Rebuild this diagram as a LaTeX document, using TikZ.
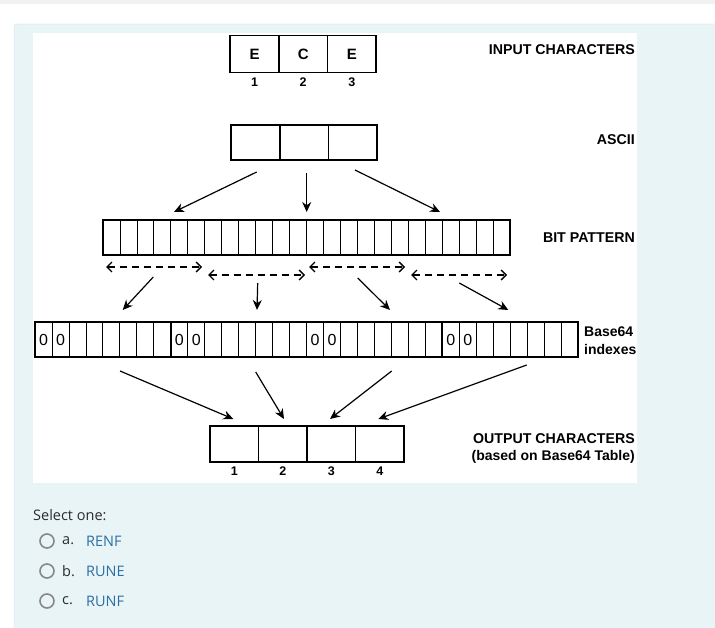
\documentclass[tikz,border=0pt]{standalone}
\usepackage{fontspec}
\setmainfont{Liberation Sans}
\newfontfamily\uifont{Open Sans}
\usetikzlibrary{positioning,arrows.meta,calc}
\definecolor{panelbg}{HTML}{E8F4F6}
\definecolor{panelrule}{HTML}{CDE4E8}
\definecolor{topstrip}{HTML}{F1F1F1}
\definecolor{linkblue}{HTML}{2C6FA5}
\definecolor{radiogray}{HTML}{888888}
\definecolor{uitext}{HTML}{2B2B2B}
\tikzset{
  cell/.style={draw,line width=1.5pt,minimum width=48.6pt,minimum height=37pt,inner sep=0pt,
    font=\bfseries\fontsize{15}{15}\selectfont},
  num/.style={inner sep=0pt,font=\bfseries\fontsize{12.5}{12.5}\selectfont},
  bit/.style={draw,line width=0.8pt,minimum width=16.96pt,minimum height=35pt,inner sep=0pt},
  zero/.style={inner sep=0pt,font=\fontsize{16}{16}\selectfont},
  grp/.style={draw,line width=1.6pt,minimum width=135.7pt,minimum height=35pt,inner sep=0pt},
  lbl/.style={anchor=east,inner sep=0pt,font=\bfseries\fontsize{14.2}{16}\selectfont},
  arr/.style={-{Stealth[length=10pt,width=9pt]},line width=1.2pt},
  dbl/.style={{Straight Barb[length=5pt,width=10pt]}-{Straight Barb[length=5pt,width=10pt]},
    line width=1.3pt,dash pattern=on 7pt off 5pt},
  radio/.style={draw=radiogray,line width=1.6pt,circle,minimum size=14pt,inner sep=0pt},
  ui/.style={anchor=west,inner sep=0pt,text=uitext,font=\uifont\fontsize{14.5}{16}\selectfont},
}
\begin{document}
\begin{tikzpicture}[x=1pt,y=-1pt]
\useasboundingbox (0,0) rectangle (715,628);
\clip (0,0) rectangle (715,628);
% page and panel
\fill[topstrip] (0,0) rectangle (715,4);
\draw[panelrule,fill=panelbg,rounded corners=3pt] (14,24) rectangle (730,650);
\fill[white] (33,33) rectangle (637,483);

% input characters
\foreach \t [count=\i] in {E,C,E} {
  \node[cell] (in\i) at ({205.8+48.7*\i},54) {\t};
  \node[num,below=4pt of in\i] (innum\i) {\i};
}
\node[lbl] (inlbl) at (635,50) {INPUT CHARACTERS};

% ascii
\foreach \i in {1,2,3}
  \node[cell,minimum height=35pt] (asc\i) at ({206.8+48.7*\i},142.5) {};
\node[lbl] (asclbl) at (635,140) {ASCII};

% bit pattern
\foreach \i in {1,...,24}
  \node[bit] (b\i) at ({103+16.96*(\i-0.5)},237.5) {};
\foreach \g in {1,2,3}
  \node[grp] (bits\g) at ({103+135.68*(\g-0.5)},237.5) {};
\node[lbl] (bitlbl) at (635,238) {BIT PATTERN};

% base64 indexes
\foreach \i in {1,...,32}
  \node[bit] (c\i) at ({35+16.97*(\i-0.5)},339.5) {};
\foreach \g in {0,1,2,3} {
  \node[grp] (six\g) at ({35+135.75*(\g+0.5)},339.5) {};
  \node[zero] (za\g) at ({35+135.75*\g+8.5},339.5) {0};
  \node[zero] (zb\g) at ({35+135.75*\g+25.5},339.5) {0};
}
\node[anchor=west,inner sep=0pt,align=left,font=\bfseries\fontsize{14}{18}\selectfont]
  (sixlbl) at (584,341) {Base64\\indexes};

% output characters
\foreach \i in {1,...,4} {
  \node[cell,minimum width=48.5pt,minimum height=36pt] (out\i) at ({185.75+48.5*\i},444) {};
  \node[num,below=4pt of out\i] (outnum\i) {\i};
}
\node[lbl] (outlbl) at (635,439) {OUTPUT CHARACTERS};
\node[lbl,font=\bfseries\fontsize{14}{16}\selectfont] (outlbl2) at (635,457) {(based on Base64 Table)};

% arrow ends
\foreach \n/\x/\y in {a1/256.7/172, a2/306.7/173, a3/355/170,
                      e1/174/212, e2/306.7/212, e3/440/212,
                      p1/153.3/277, p2/257.7/283, p3/357.7/278, p4/459.3/283,
                      q1/122.7/310, q2/257/310, q3/390/310, q4/508.3/310,
                      r1/120/371, r2/255.7/372, r3/391.7/371, r4/526.7/365,
                      s1/233.3/419, s2/284/419, s3/330/419, s4/378.3/419,
                      d1/106/267, d2/202/267, d3/208/275, d4/305/275,
                      d5/309/267, d6/405/267, d7/411/275, d8/507/275}
  \coordinate (\n) at (\x,\y);

\foreach \i in {1,2,3}
  \draw[arr] (a\i) -- (e\i);
\foreach \i in {1,...,4} {
  \draw[arr] (p\i) -- (q\i);
  \draw[arr] (r\i) -- (s\i);
}
\draw[dbl] (d1) -- (d2);
\draw[dbl] (d3) -- (d4);
\draw[dbl] (d5) -- (d6);
\draw[dbl] (d7) -- (d8);

% answers
\node[ui] (ask) at (33,515) {Select one:};
\foreach \k/\w [count=\j] in {a/RENF,b/RUNE,c/RUNF} {
  \node[radio] (rb\j) at (47,{511+30*\j}) {};
  \node[ui] (key\j) at (62,{511+30*\j}) {\k.};
  \node[ui,text=linkblue] (ans\j) at (86,{511+30*\j}) {\w};
}
\end{tikzpicture}
\end{document}
